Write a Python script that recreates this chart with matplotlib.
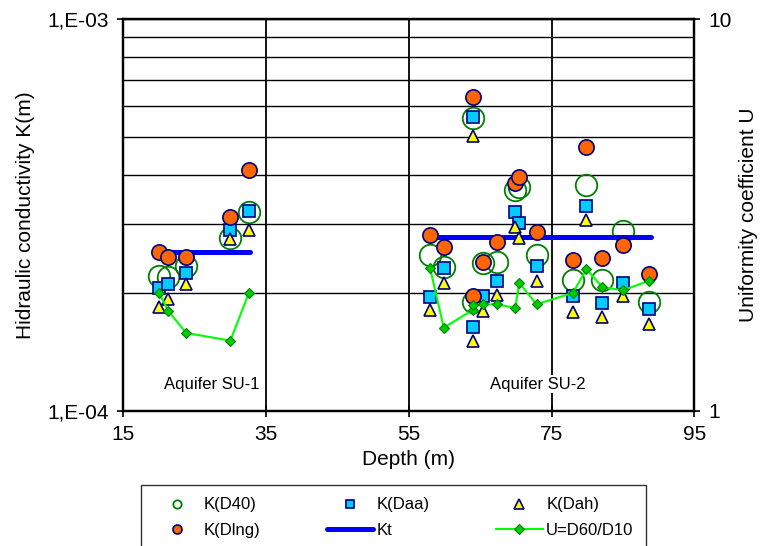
import matplotlib
matplotlib.use("Agg")
import matplotlib.pyplot as plt
from matplotlib.ticker import LogLocator, NullFormatter

plt.rcParams['font.family'] = ['Liberation Sans', 'DejaVu Sans']

# Aquifer SU-1
depth_su1 = [20.0, 21.3, 23.8, 30.0, 32.6]
k_d40_su1 = [2.21e-4, 2.20e-4, 2.34e-4, 2.76e-4, 3.21e-4]
k_daa_su1 = [2.06e-4, 2.11e-4, 2.25e-4, 2.89e-4, 3.24e-4]
k_dah_su1 = [1.84e-4, 1.93e-4, 2.11e-4, 2.74e-4, 2.89e-4]
k_dlng_su1 = [2.55e-4, 2.47e-4, 2.47e-4, 3.13e-4, 4.12e-4]
u_su1 = [2.00, 1.80, 1.58, 1.51, 2.00]
kt_depth_su1 = [20.5, 32.7]
kt_su1 = [2.54e-4, 2.54e-4]

# Aquifer SU-2
depth_su2 = [58.0, 59.9, 64.0, 64.0, 65.4, 67.4, 69.9, 70.5, 72.9, 78.0, 79.9, 82.1, 85.0, 88.7]
k_d40_su2 = [2.50e-4, 2.33e-4, 5.59e-4, 1.90e-4, 2.38e-4, 2.40e-4, 3.66e-4, 3.73e-4,
             2.50e-4, 2.16e-4, 3.77e-4, 2.16e-4, 2.87e-4, 1.90e-4]
k_daa_su2 = [1.95e-4, 2.31e-4, 5.62e-4, 1.64e-4, 1.96e-4, 2.15e-4, 3.22e-4, 3.01e-4,
             2.34e-4, 1.96e-4, 3.33e-4, 1.88e-4, 2.12e-4, 1.82e-4]
k_dah_su2 = [1.81e-4, 2.12e-4, 5.03e-4, 1.51e-4, 1.80e-4, 1.97e-4, 2.94e-4, 2.76e-4,
             2.14e-4, 1.79e-4, 3.07e-4, 1.74e-4, 1.96e-4, 1.67e-4]
k_dlng_su2 = [2.81e-4, 2.62e-4, 6.32e-4, 1.96e-4, 2.40e-4, 2.69e-4, 3.81e-4, 3.96e-4,
              2.86e-4, 2.43e-4, 4.71e-4, 2.45e-4, 2.65e-4, 2.24e-4]
u_su2 = [2.31, 1.63, 1.81, 1.86, 1.87, 1.87, 1.83, 2.12, 1.87, 2.00, 2.30, 2.07, 2.03, 2.15]
kt_depth_su2 = [57.7, 89.0]
kt_su2 = [2.78e-4, 2.78e-4]

x_ticks = [15, 35, 55, 75, 95]

fig = plt.figure(figsize=(7.62, 5.46), dpi=100)
ax = fig.add_axes([0.1618, 0.2478, 0.7493, 0.7169])
ax2 = ax.twinx()

navy = '#000080'
# K(D40) open green circles
h_d40, = ax.plot(depth_su1, k_d40_su1, 'o', ms=15.5, mfc='none', mec='#008000', mew=1.3,
                 ls='none', label='K(D40)', zorder=3)
ax.plot(depth_su2, k_d40_su2, 'o', ms=15.5, mfc='none', mec='#008000', mew=1.3, ls='none', zorder=3)
# Kt
h_kt, = ax.plot(kt_depth_su1, kt_su1, '-', color='#0000FF', lw=3.6, label='Kt', zorder=3.2,
                solid_capstyle='round')
ax.plot(kt_depth_su2, kt_su2, '-', color='#0000FF', lw=3.6, zorder=3.2, solid_capstyle='round')
# K(Daa) squares
h_daa, = ax.plot(depth_su1, k_daa_su1, 's', ms=9, mfc='#00CCFF', mec=navy, mew=1.2,
                 ls='none', label='K(Daa)', zorder=4)
ax.plot(depth_su2, k_daa_su2, 's', ms=9, mfc='#00CCFF', mec=navy, mew=1.2, ls='none', zorder=4)
# K(Dah) triangles
h_dah, = ax.plot(depth_su1, k_dah_su1, '^', ms=9, mfc='#FFFF00', mec=navy, mew=1.2,
                 ls='none', label='K(Dah)', zorder=5)
ax.plot(depth_su2, k_dah_su2, '^', ms=9, mfc='#FFFF00', mec=navy, mew=1.2, ls='none', zorder=5)
# K(Dlng) orange circles
h_dlng, = ax.plot(depth_su1, k_dlng_su1, 'o', ms=11, mfc='#FF6600', mec=navy, mew=1.2,
                  ls='none', label='K(Dlng)', zorder=6)
ax.plot(depth_su2, k_dlng_su2, 'o', ms=11, mfc='#FF6600', mec=navy, mew=1.2, ls='none', zorder=6)

# U on right axis
h_u, = ax2.plot(depth_su1, u_su1, '-D', color='#00FF00', lw=1.5, ms=5, mfc='#00CC00',
                mec='#008000', mew=0.8, label='U=D60/D10')
ax2.plot(depth_su2, u_su2, '-D', color='#00FF00', lw=1.5, ms=5, mfc='#00CC00',
         mec='#008000', mew=0.8)

# axes setup
ax.set_xlim(15, 95)
ax.set_yscale('log')
ax.set_ylim(1e-4, 1e-3)
ax.set_yticks([1e-4, 1e-3])
ax.set_yticklabels(['1,E-04', '1,E-03'])
ax.yaxis.set_minor_locator(LogLocator(base=10, subs=range(2, 10)))
ax.yaxis.set_minor_formatter(NullFormatter())
ax.set_xticks(x_ticks)
ax.grid(True, which='both', axis='y', color='black', lw=1.0)
ax.grid(True, which='major', axis='x', color='black', lw=1.3)

ax2.set_yscale('log')
ax2.set_ylim(1, 10)
ax2.set_yticks([1, 10])
ax2.set_yticklabels(['1', '10'])
ax2.yaxis.set_minor_locator(LogLocator(base=10, subs=range(2, 10)))
ax2.yaxis.set_minor_formatter(NullFormatter())

for a in (ax, ax2):
    for s in a.spines.values():
        s.set_linewidth(1.6)
    a.tick_params(which='major', direction='inout', length=9, width=1.2, labelsize=15, pad=6)
    a.tick_params(which='minor', length=0)

ax.set_xlabel('Depth (m)', fontsize=15, labelpad=4)
ax.set_ylabel('Hidraulic conductivity K(m)', fontsize=15, labelpad=9)
ax2.set_ylabel('Uniformity coefficient U', fontsize=15, labelpad=5)

ax.text(27.4, 1.17e-4, 'Aquifer SU-1', ha='center', va='center', fontsize=12, zorder=7,
        bbox=dict(facecolor='white', edgecolor='none', pad=1))
ax.text(73.1, 1.17e-4, 'Aquifer SU-2', ha='center', va='center', fontsize=12, zorder=7,
        bbox=dict(facecolor='white', edgecolor='none', pad=1))

handles = [h_d40, h_dlng, h_daa, h_kt, h_dah, h_u]
leg = fig.legend(handles, [h.get_label() for h in handles], ncol=3, loc='upper left',
                 bbox_to_anchor=(141 / 762, 1 - 485 / 546, 505 / 762, 0.0), mode='expand',
                 fontsize=12, frameon=True, fancybox=False, edgecolor='black',
                 handlelength=2.8, handletextpad=0.2, labelspacing=0.65, borderpad=0.75,
                 borderaxespad=0, numpoints=1)
leg.get_frame().set_linewidth(1.0)
for h, ms in zip(leg.legend_handles, [6, 6.5, 6, 0, 6.5, 5]):
    if ms:
        h.set_markersize(ms)

fig.savefig('out.png', dpi=100)
